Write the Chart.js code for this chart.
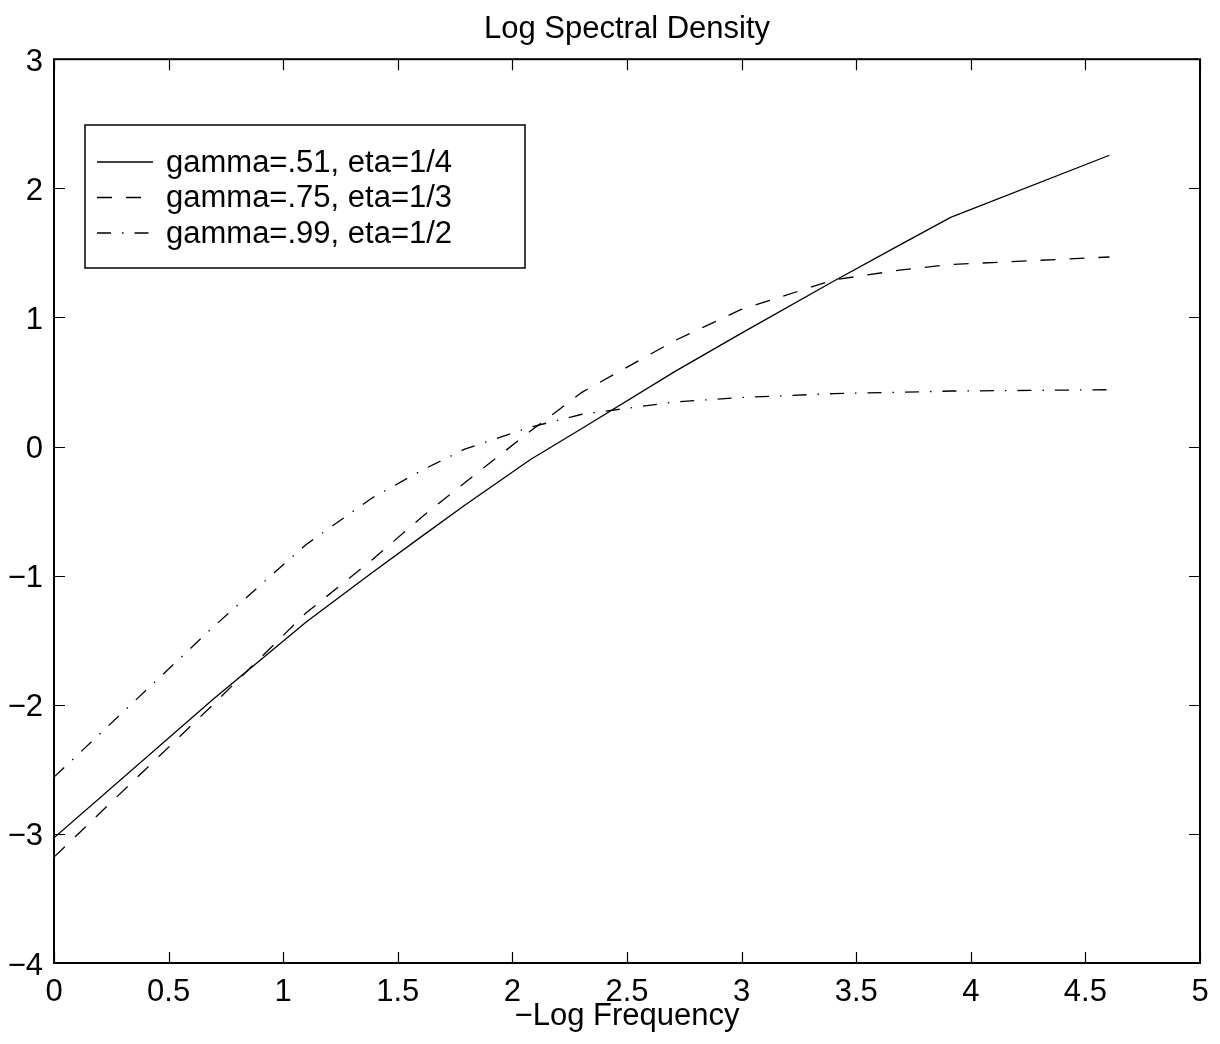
<!DOCTYPE html>
<html>
<head>
<meta charset="utf-8">
<script src="https://cdn.jsdelivr.net/npm/chart.js@4"></script>
<style>
  html, body { margin:0; padding:0; background:#fff; }
  #wrap { width:1220px; height:1044px; }
</style>
</head>
<body>
<div id="wrap"><canvas id="chartLSD"></canvas></div>
<script>
// x = -log(frequency)
const xs = [0, 0.693, 1.099, 1.386, 1.609, 1.792, 2.079, 2.303, 2.708, 2.996, 3.401, 3.689, 3.912, 4.605];

// log spectral density for each parameter pair
const g51 = [-3.03, -1.96, -1.36, -0.98, -0.69, -0.455, -0.10, 0.14, 0.58, 0.875, 1.28, 1.56, 1.775, 2.256];
const g75 = [-3.18, -2.00, -1.29, -0.88, -0.54, -0.28, 0.12, 0.42, 0.82, 1.06, 1.29, 1.366, 1.41, 1.468];
const g99 = [-2.56, -1.40, -0.76, -0.40, -0.18, -0.02, 0.15, 0.25, 0.345, 0.38, 0.41, 0.42, 0.43, 0.44];

const seriesLabels = ['gamma=.51, eta=1/4', 'gamma=.75, eta=1/3', 'gamma=.99, eta=1/2'];
const xTicks = [0, 0.5, 1, 1.5, 2, 2.5, 3, 3.5, 4, 4.5, 5];
const yTicks = [-4, -3, -2, -1, 0, 1, 2, 3];

const FONT = "'Liberation Sans', Arial, Helvetica, sans-serif";
const FS = 31;
const dashes = [[], [15, 14], [14, 11, 1.5, 11]];

const pts = ys => xs.map((x, i) => ({ x, y: ys[i] }));
const minus = v => String(v).replace('-', '\u2212');

// frame with inward ticks on all four sides (matlab look)
const boxTicks = {
  id: 'boxTicks',
  afterDraw(chart) {
    const { ctx, chartArea: a, scales } = chart;
    const tl = 11;
    ctx.save();
    ctx.strokeStyle = '#000';
    ctx.lineWidth = 1.2;
    ctx.beginPath();
    xTicks.forEach(v => {
      const px = Math.round(scales.x.getPixelForValue(v)) + 0.5;
      ctx.moveTo(px, a.bottom); ctx.lineTo(px, a.bottom - tl);
      ctx.moveTo(px, a.top); ctx.lineTo(px, a.top + tl);
    });
    yTicks.forEach(v => {
      const py = Math.round(scales.y.getPixelForValue(v)) + 0.5;
      ctx.moveTo(a.left, py); ctx.lineTo(a.left + tl, py);
      ctx.moveTo(a.right, py); ctx.lineTo(a.right - tl, py);
    });
    ctx.stroke();
    ctx.lineWidth = 2;
    ctx.strokeRect(a.left, a.top, a.right - a.left, a.bottom - a.top);
    ctx.restore();
  }
};

// legend box inside the axes, upper left
const boxLegend = {
  id: 'boxLegend',
  afterDraw(chart) {
    const { ctx } = chart;
    const bx = 85, by = 125, bw = 440, bh = 143;
    ctx.save();
    ctx.fillStyle = '#fff';
    ctx.fillRect(bx, by, bw, bh);
    ctx.strokeStyle = '#000';
    ctx.lineWidth = 1.5;
    ctx.strokeRect(bx, by, bw, bh);
    ctx.font = FS + 'px ' + FONT;
    ctx.textBaseline = 'middle';
    ctx.fillStyle = '#000';
    chart.data.datasets.forEach((ds, i) => {
      const y = 162 + i * 35.5;
      ctx.setLineDash(ds.borderDash || []);
      ctx.lineWidth = 1.3;
      ctx.beginPath();
      ctx.moveTo(97, y); ctx.lineTo(153, y);
      ctx.stroke();
      ctx.setLineDash([]);
      ctx.fillText(ds.label, 166, y + 1);
    });
    ctx.restore();
  }
};

new Chart(document.getElementById('chartLSD'), {
  type: 'line',
  data: {
    datasets: [g51, g75, g99].map((ys, i) => ({
      label: seriesLabels[i], data: pts(ys),
      borderColor: '#000', borderWidth: 1.3, borderDash: dashes[i],
      pointRadius: 0, tension: 0, fill: false
    }))
  },
  options: {
    responsive: true, maintainAspectRatio: false, animation: false,
    layout: { padding: { left: 0, right: 20, top: 0, bottom: 0 } },
    scales: {
      x: {
        type: 'linear', min: 0, max: 5,
        afterBuildTicks: s => { s.ticks = xTicks.map(v => ({ value: v })); },
        afterFit: s => { s.height = 81; },
        grid: { display: false, drawTicks: false },
        border: { display: false },
        ticks: { color: '#000', padding: 11, font: { family: FONT, size: FS }, maxRotation: 0, autoSkip: false,
                 callback: v => minus(v) },
        title: { display: true, text: '\u2212Log Frequency', color: '#000', padding: { top: 0, bottom: 9 }, font: { family: FONT, size: FS } }
      },
      y: {
        min: -4, max: 3,
        afterBuildTicks: s => { s.ticks = yTicks.map(v => ({ value: v })); },
        afterFit: s => { s.width = 54; },
        grid: { display: false, drawTicks: false },
        border: { display: false },
        ticks: { color: '#000', padding: 11, labelOffset: 3, font: { family: FONT, size: FS }, callback: v => minus(v) }
      }
    },
    plugins: {
      legend: { display: false },
      tooltip: { enabled: false },
      title: {
        display: true, text: 'Log Spectral Density', fullSize: false, color: '#000',
        padding: { top: 11, bottom: 11 }, font: { family: FONT, size: FS, weight: 'normal' }
      }
    }
  },
  plugins: [boxTicks, boxLegend]
});
</script>
</body>
</html>
